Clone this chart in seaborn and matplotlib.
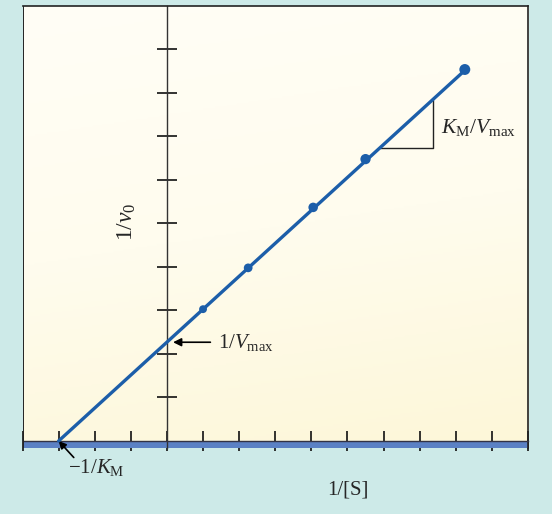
import numpy as np
import pandas as pd
import matplotlib
matplotlib.use("Agg")
import matplotlib.pyplot as plt
from matplotlib.colors import LinearSegmentedColormap
import seaborn as sns

# ---- data (in axis tick units) ----
inv_S = [1.0, 2.25, 4.05, 5.5, 8.25]          # 1/[S]
inv_v0 = [3.03, 3.98, 5.37, 6.48, 8.54]       # 1/v0
line_x = [-3.0, 8.25]                          # fitted line from -1/KM to last point
line_y = [0.0, 8.52]
neg_inv_KM = -3.0
inv_Vmax = 2.27
tri_x = [5.91, 7.37, 7.37]                     # slope triangle
tri_y = [6.74, 6.74, 7.85]
xticks = list(range(-4, 11))
yticks = list(range(1, 10))

sns.set_theme(style="white")
plt.rcParams["font.family"] = ["Liberation Serif", "DejaVu Serif"]
plt.rcParams["mathtext.fontset"] = "custom"
plt.rcParams["mathtext.rm"] = "Liberation Serif"
plt.rcParams["mathtext.it"] = "Liberation Serif:italic"
plt.rcParams["mathtext.bf"] = "Liberation Serif:bold"

W, H = 552, 514
fig = plt.figure(figsize=(W / 100, H / 100), dpi=100, facecolor="#cdeae8")
left_px, right_px, top_px, bot_px = 22.5, 528, 6, 447.5
ax = fig.add_axes([left_px / W, 1 - bot_px / H, (right_px - left_px) / W, (bot_px - top_px) / H])

xmin, xmax, ymin, ymax = -4, 10, -0.15, 10.0
ax.set_xlim(xmin, xmax)
ax.set_ylim(ymin, ymax)

# gradient background
cmap = LinearSegmentedColormap.from_list("cream", ["#fdf7d8", "#fffcee", "#fffef6"])
gy = np.linspace(0, 1, 256)[:, None]
gx = np.linspace(0, 1, 256)[None, :]
grad = np.clip(gy * 0.85 + (1 - gx) * 0.15, 0, 1)
ax.imshow(grad, extent=(xmin, xmax, ymin, ymax), origin="lower", aspect="auto",
          cmap=cmap, zorder=0)

# blue band along x axis
ax.axhspan(ymin, 0, color="#5b81c4", zorder=1, lw=0)

# frame
for s in ["top", "right"]:
    ax.spines[s].set_visible(True)
    ax.spines[s].set_color("#222222")
    ax.spines[s].set_linewidth(1.2)
ax.spines["bottom"].set_position(("data", 0))
ax.spines["bottom"].set_color("#333344")
ax.spines["bottom"].set_linewidth(1.0)
ax.spines["left"].set_position(("data", 0))
ax.spines["left"].set_color("#333333")
ax.spines["left"].set_linewidth(1.0)
ax.axvline(xmin, color="#222222", lw=1.4, zorder=5)

ax.set_xticks(xticks)
ax.set_yticks(yticks)
ax.set_xticklabels([])
ax.set_yticklabels([])
ax.tick_params(axis="both", direction="inout", length=14.5, width=1.2, color="#111111",
               bottom=True, left=True)

# line and points
sns.lineplot(x=line_x, y=line_y, ax=ax, color="#1c5ea9", lw=2.4, zorder=4)
sns.scatterplot(x=inv_S, y=inv_v0, ax=ax, color="#1c5ea9",
                size=[1, 2, 3, 4, 5], sizes=(32, 62), legend=False, edgecolor="none", zorder=5)

# slope triangle
ax.plot(tri_x, tri_y, color="#222222", lw=1.0, zorder=3)

fs = 15
ax.text(7.6, 7.2, r"$K_{\mathrm{M}}/V_{\mathrm{max}}$", fontsize=fs + 0.5, va="center", ha="left")
ax.annotate(r"$1/V_{\mathrm{max}}$", xy=(0.17, inv_Vmax), xytext=(1.41, inv_Vmax),
            fontsize=fs, va="center", ha="left",
            arrowprops=dict(arrowstyle="-|>", color="black", lw=1.2, mutation_scale=12,
                            shrinkA=3, shrinkB=0))
ax.text(-2.73, -0.6, r"$-1/K_{\mathrm{M}}$", fontsize=fs, va="center", ha="left", clip_on=False)
ax.annotate("", xy=(neg_inv_KM, 0), xytext=(-2.58, -0.38), annotation_clip=False,
            arrowprops=dict(arrowstyle="-|>", color="black", lw=1.2, mutation_scale=11,
                            shrinkA=0, shrinkB=0))
ax.text(5.0, -1.13, "1/[S]", fontsize=fs, va="center", ha="center", clip_on=False)
ax.text(-1.1, 5.05, r"$1/v_0$", fontsize=17, va="center", ha="center", rotation=90)

ax.set_xlabel("")
ax.set_ylabel("")
fig.savefig("out.png", dpi=100, facecolor=fig.get_facecolor())
